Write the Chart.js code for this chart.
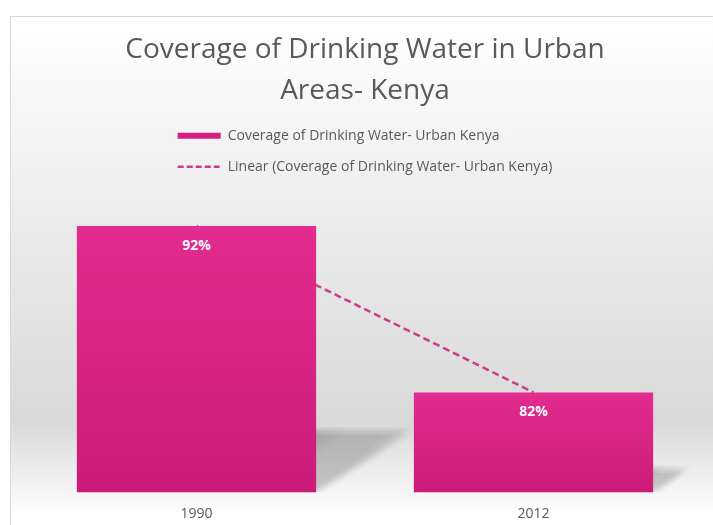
<!DOCTYPE html>
<html>
<head>
<meta charset="utf-8">
<script src="https://cdn.jsdelivr.net/npm/chart.js@4/dist/chart.umd.min.js"></script>
<style>
    body { margin: 0; background: #ffffff; overflow: hidden; }
    #frame {
        position: absolute;
        left: 10px;
        top: 16px;
        width: 710px;
        height: 525px;
        border-left: 1px solid #d9d9d9;
        border-top: 1px solid #d9d9d9;
        background: linear-gradient(to bottom, #ffffff 0%, #d9d9d9 77%, #ffffff 95%);
    }
</style>
</head>
<body>
<div id="frame">
    <canvas id="chart" width="710" height="525"></canvas>
</div>
<script>
// Chart data
const titleLines = ['Coverage of Drinking Water in Urban', 'Areas- Kenya'];
const years = ['1990', '2012'];
const coverage = [92, 82];
const trendValues = [92, 82];
const barLabel = 'Coverage of Drinking Water- Urban Kenya';
const trendLabel = 'Linear (Coverage of Drinking Water- Urban Kenya)';

// Colours
const barTop = '#e22c8f';
const barBottom = '#cb1b7a';
const barLegend = '#d61f83';
const trendColor = '#cb3d8b';
const textColor = '#595959';
const fontFamily = '"Open Sans", "Noto Sans", sans-serif';

// Soft perspective shadow behind each bar (several faint passes stand in for a blur)
const barShadow = {
    id: 'barShadow',
    beforeDatasetsDraw(chart) {
        const ctx = chart.ctx;
        const area = chart.chartArea;
        const meta = chart.getDatasetMeta(0);
        ctx.save();
        ctx.beginPath();
        ctx.rect(area.left, area.top, area.right - area.left, area.bottom - area.top);
        ctx.clip();
        meta.data.forEach(bar => {
            // bars start from zero below the axis, so the visible base is the area bottom
            const base = Math.min(bar.base, area.bottom);
            const h = base - bar.y;
            const left = bar.x - bar.width / 2;
            const right = bar.x + bar.width / 2;
            const dx = h * 0.36;
            const dy = h * 0.23;
            const g = ctx.createLinearGradient(right, base - dy, right + dx * 0.6, base);
            g.addColorStop(0, 'rgba(0,0,0,0.011)');
            g.addColorStop(1, 'rgba(0,0,0,0.004)');
            ctx.fillStyle = g;
            for (let i = -2; i <= 2; i++) {
                for (let j = -2; j <= 2; j++) {
                    const ox = i * 2;
                    const oy = j * 2;
                    ctx.beginPath();
                    ctx.moveTo(left + ox, base + oy);
                    ctx.lineTo(right + ox, base + oy);
                    ctx.lineTo(right + dx + ox, base - dy + oy);
                    ctx.lineTo(left + dx + ox, base - dy + oy);
                    ctx.closePath();
                    ctx.fill();
                }
            }
        });
        ctx.restore();
    }
};

// Percentage labels inside the top of each bar
const valueLabels = {
    id: 'valueLabels',
    afterDatasetsDraw(chart) {
        const ctx = chart.ctx;
        const meta = chart.getDatasetMeta(0);
        ctx.save();
        ctx.font = 'bold 14px ' + fontFamily;
        ctx.fillStyle = '#ffffff';
        ctx.textAlign = 'center';
        ctx.textBaseline = 'middle';
        meta.data.forEach((bar, i) => {
            ctx.fillText(coverage[i] + '%', bar.x, bar.y + 20);
        });
        ctx.restore();
    }
};

// Keep the legend rows left aligned as one centred block
const legendBlock = {
    id: 'legendBlock',
    afterLayout(chart) {
        const lg = chart.legend;
        if (!lg || !lg.lineWidths) return;
        const pad = lg.options.labels.padding;
        const widest = Math.max(...lg.lineWidths);
        const start = (lg.left + pad + lg.right - widest) / 2;
        const shift = start - (lg.left + pad);
        lg.left += shift;
        lg.right += shift;
    }
};

// Gradient fill for each bar, top to base
function barGradient(context) {
    const chart = context.chart;
    const area = chart.chartArea;
    if (!area || !context.parsed) return barTop;
    const y = chart.scales.y.getPixelForValue(context.parsed.y);
    const g = chart.ctx.createLinearGradient(0, y, 0, area.bottom);
    g.addColorStop(0, barTop);
    g.addColorStop(1, barBottom);
    return g;
}

const ctx = document.getElementById('chart').getContext('2d');
new Chart(ctx, {
    type: 'bar',
    data: {
        labels: years,
        datasets: [
            {
                type: 'bar',
                label: barLabel,
                data: coverage,
                backgroundColor: barGradient,
                borderWidth: 0,
                barPercentage: 0.71,
                categoryPercentage: 1.0,
                order: 1
            },
            {
                type: 'line',
                label: trendLabel,
                data: trendValues,
                borderColor: trendColor,
                borderWidth: 2.5,
                borderDash: [7, 4],
                pointRadius: 0,
                fill: false,
                order: 2
            }
        ]
    },
    options: {
        responsive: false,
        animation: false,
        layout: {
            padding: { left: 17, right: 19, top: 0, bottom: 7 }
        },
        scales: {
            x: {
                grid: { display: false, drawTicks: false },
                border: { display: false },
                ticks: {
                    color: textColor,
                    padding: 13,
                    font: { family: fontFamily, size: 14 }
                }
            },
            y: {
                display: false,
                min: 76,
                max: 94.54
            }
        },
        plugins: {
            title: {
                display: true,
                text: titleLines,
                color: textColor,
                font: { family: fontFamily, size: 28, weight: 'normal', lineHeight: 1.46 },
                padding: { top: 13, bottom: 0 }
            },
            legend: {
                display: true,
                position: 'top',
                align: 'start',
                labels: {
                    color: textColor,
                    font: { family: fontFamily, size: 14 },
                    padding: 17,
                    usePointStyle: true,
                    pointStyleWidth: 43,
                    boxHeight: 6,
                    generateLabels(chart) {
                        const items = Chart.defaults.plugins.legend.labels.generateLabels(chart);
                        items.forEach(item => {
                            const ds = chart.data.datasets[item.datasetIndex];
                            if (ds.type === 'line') {
                                item.pointStyle = 'line';
                                item.strokeStyle = trendColor;
                                item.fillStyle = trendColor;
                                item.lineWidth = 2.5;
                                item.lineDash = [6, 3];
                            } else {
                                item.pointStyle = 'rect';
                                item.fillStyle = barLegend;
                                item.lineWidth = 0;
                            }
                        });
                        return items;
                    }
                }
            },
            tooltip: { enabled: false }
        }
    },
    plugins: [barShadow, valueLabels, legendBlock]
});
</script>
</body>
</html>
